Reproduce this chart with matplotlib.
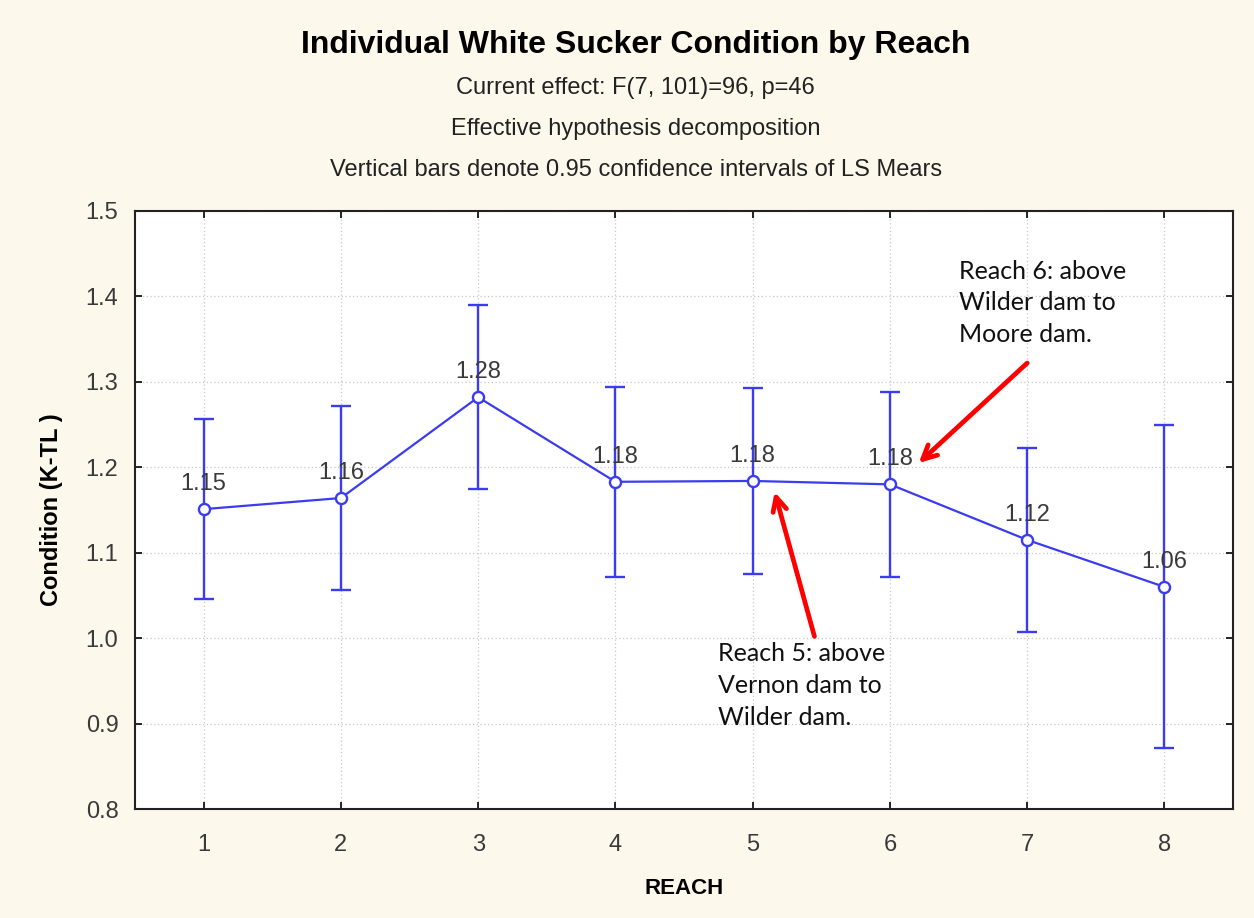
import matplotlib
matplotlib.use("Agg")
from matplotlib import pyplot as plt

# Data
reaches = [1, 2, 3, 4, 5, 6, 7, 8]
means = [1.151, 1.164, 1.282, 1.183, 1.184, 1.180, 1.115, 1.060]
ci_half = [0.105, 0.108, 0.108, 0.111, 0.109, 0.108, 0.108, 0.189]
mean_labels = ["1.15", "1.16", "1.28", "1.18", "1.18", "1.18", "1.12", "1.06"]
y_ticks = [0.8, 0.9, 1.0, 1.1, 1.2, 1.3, 1.4, 1.5]

title = "Individual White Sucker Condition by Reach"
subtitles = [
    "Current effect: F(7, 101)=96, p=46",
    "Effective hypothesis decomposition",
    "Vertical bars denote 0.95 confidence intervals of LS Mears",
]
note_5 = "Reach 5: above\nVernon dam to\nWilder dam."
note_6 = "Reach 6: above\nWilder dam to\nMoore dam."

blue = "#3b3bf2"
text_grey = "#3a3a3a"
bg = "#fcf8ec"
sans = ["Liberation Sans", "DejaVu Sans"]

fig = plt.figure(figsize=(12.54, 9.18), dpi=100, facecolor=bg)
ax = fig.add_axes([0.1077, 0.1187, 0.8756, 0.6515])
ax.set_facecolor("white")

ax.errorbar(
    reaches,
    means,
    yerr=ci_half,
    color=blue,
    linewidth=1.6,
    elinewidth=1.7,
    capsize=7,
    capthick=1.7,
    marker="o",
    markersize=8,
    markerfacecolor="white",
    markeredgecolor=blue,
    markeredgewidth=1.7,
    zorder=3,
)

# value labels above each mean
for x, y, lab in zip(reaches, means, mean_labels):
    ax.annotate(
        lab,
        (x, y),
        xytext=(0, 10),
        textcoords="offset points",
        ha="center",
        va="bottom",
        fontsize=17,
        family=sans,
        color=text_grey,
        zorder=4,
    )

ax.set_xlim(0.5, 8.5)
ax.set_ylim(0.8, 1.5)
ax.set_xticks(reaches)
ax.set_yticks(y_ticks)
ax.set_yticklabels([f"{v:.1f}" for v in y_ticks])
ax.tick_params(direction="in", length=5, width=1.2, top=True, right=True,
               labelsize=17, labelcolor=text_grey)
ax.tick_params(axis="y", pad=12)
ax.tick_params(axis="x", pad=18)
for lab in ax.get_xticklabels() + ax.get_yticklabels():
    lab.set_family(sans)
for side in ax.spines.values():
    side.set_linewidth(1.5)
    side.set_color("#222222")

ax.grid(True, color="#c8c8c8", linestyle=(0, (1, 2)), linewidth=0.9)
ax.set_axisbelow(True)

ax.set_xlabel("REACH", fontsize=16, fontweight="bold", family=sans,
              labelpad=16)
ax.set_ylabel("Condition (K-TL )", fontsize=17, fontweight="bold",
              family=sans, labelpad=16)

# title block
fig.text(0.507, 0.951, title, ha="center", va="center", fontsize=23,
         fontweight="bold", family=sans)
for i, line in enumerate(subtitles):
    fig.text(0.507, 0.904 - i * 0.0445, line, ha="center", va="center",
             fontsize=17, family=sans, color="#222222")

# red callouts
arrow_kw = dict(arrowstyle="->,head_length=1.0,head_width=0.5",
                color="#ff0000", lw=3.4, shrinkA=0, shrinkB=0)
ax.annotate("", xy=(5.16, 1.171), xytext=(5.45, 1.002), arrowprops=arrow_kw)
ax.annotate("", xy=(6.21, 1.205), xytext=(7.00, 1.322), arrowprops=arrow_kw)
ax.text(4.75, 0.995, note_5, ha="left", va="top", fontsize=18,
        family="Lato", color="#111111", linespacing=1.45)
ax.text(6.506, 1.443, note_6, ha="left", va="top", fontsize=18,
        family="Lato", color="#111111", linespacing=1.45)

fig.savefig("out.png", dpi=100, facecolor=bg)
